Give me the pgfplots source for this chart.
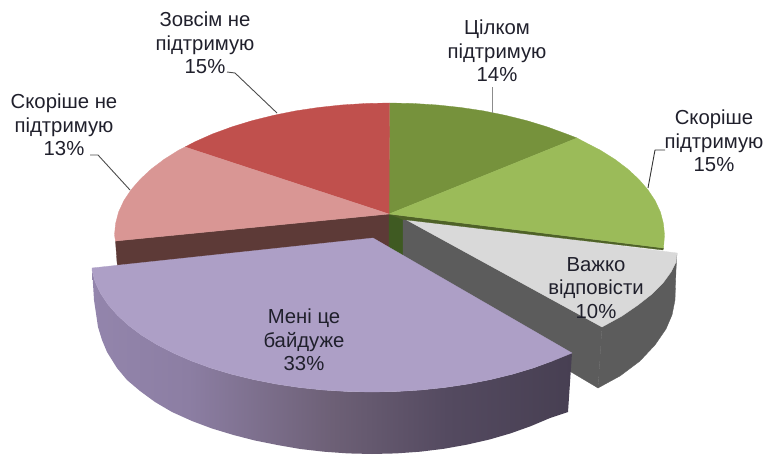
\documentclass[border=0pt]{standalone}
\usepackage{pgfplots}
\pgfplotsset{compat=1.18}
\usepackage{fontspec}
\setmainfont{Liberation Sans}
\definecolor{gdark}{HTML}{76923C}
\definecolor{glight}{HTML}{9BBB59}
\definecolor{rdark}{HTML}{C0504D}
\definecolor{rlight}{HTML}{D99694}
\definecolor{purp}{HTML}{AD9FC6}
\definecolor{grey1}{HTML}{D9D9D9}
\definecolor{grey2}{HTML}{5C5C5C}
\definecolor{brown1}{HTML}{5D3A37}
\definecolor{gside}{HTML}{3F5A22}
\definecolor{gline}{HTML}{4F6228}
\definecolor{wallA}{HTML}{9385AC}
\definecolor{wallA2}{HTML}{8C7EA3}
\definecolor{wallB}{HTML}{6D6076}
\definecolor{wallB2}{HTML}{544A60}
\definecolor{wallC}{HTML}{473F52}
\definecolor{txt}{HTML}{20202C}
\pgfdeclarehorizontalshading{wallsh}{100bp}{color(0bp)=(wallA); color(25bp)=(wallA); color(35bp)=(wallA2); color(50bp)=(wallB); color(62bp)=(wallB2); color(75bp)=(wallC); color(100bp)=(wallC)}
\tikzset{lab/.style={font=\fontsize{20.3}{23.5}\selectfont, align=center, text=txt, inner sep=0pt}}
\begin{document}
\begin{tikzpicture}
\useasboundingbox (0,0) rectangle (766pt,455pt);
\begin{axis}[
  scale only axis, width=766pt, height=455pt,
  xmin=0, xmax=766, ymin=0, ymax=455, y dir=reverse,
  hide axis, clip=false,
  every axis plot/.append style={line join=round, line width=0.3pt},
]
% sides behind
\addplot[fill=brown1,draw=brown1] coordinates {(115.5,241)(389,214)(390,262)(118,270)(117,262)} --cycle;
\addplot[fill=gside,draw=gside] coordinates {(389,214)(403,218)(403,262)(389,262)} --cycle;
% grey wedge (exploded)
\addplot[fill=grey2,draw=grey2] coordinates {(403,218)(602,327)(598,388)(403,272)} --cycle;
\addplot[fill=grey2,draw=grey2] coordinates {(677,253)(676,270)(675,300)(672,315)(666,329)(655,345)(640,361)(620,376)(598,388)(602,327)} --cycle;
\addplot[fill=grey1,draw=grey1] coordinates {(403,218)(677,253)(676,262)(671,272)(663,283)(652,294)(638,305)(622,316)(602,327)} --cycle;
\addplot[fill=gline,draw=gline] coordinates {(389,214)(663.5,248)(663,250)(403,219.5)} --cycle;
% purple wedge wall
\addplot[draw=none,shade,shading=wallsh] coordinates {
(92,268)(92.1,270.6)(95.2,282.1)(100.6,293.4)(108,304.5)(117.4,315.2)(128.7,325.5)(141.8,335.3)(156.7,344.5)(173.3,353)(191.4,360.9)(210.8,368)(231.5,374.2)(253.2,379.5)(275.9,384)(299.3,387.5)(323.2,390)(347.5,391.5)(372,392)(396.5,391.5)(420.8,390)(444.7,387.5)(468.1,384)(490.8,379.5)(512.5,374.2)(533.2,368)(552.6,360.9)(572,353)
(568,412)(550.1,418)(530.9,426.1)(510.5,433.4)(489.1,439.6)(466.7,444.7)(443.7,448.8)(420.1,451.7)(396.1,453.4)(372,454)(347.9,453.4)(323.9,451.7)(300.3,449)(277.3,445)(254.9,440.5)(233.5,435)(212,428.5)(192,421)(172,412)(155,402)(140,391)(127,380)(117,368)(107,352)(102,340)(98,327)(96,313.4)(94,300)} --cycle;
% purple top
\addplot[fill=purp,draw=purp] coordinates {
(373,238)(92,268)(92.1,270.6)(95.2,282.1)(100.6,293.4)(108,304.5)(117.4,315.2)(128.7,325.5)(141.8,335.3)(156.7,344.5)(173.3,353)(191.4,360.9)(210.8,368)(231.5,374.2)(253.2,379.5)(275.9,384)(299.3,387.5)(323.2,390)(347.5,391.5)(372,392)(396.5,391.5)(420.8,390)(444.7,387.5)(468.1,384)(490.8,379.5)(512.5,374.2)(533.2,368)(552.6,360.9)(572,353)} --cycle;
% main tops
\addplot[fill=gdark,draw=gdark] coordinates {(389,214)(389.5,103)(413.5,103.5)(437.4,105)(460.7,107.5)(483.5,110.9)(505.7,115.4)(527,120.7)(547.2,126.9)(566.3,133.9)(577,138)} --cycle;
\addplot[fill=glight,draw=glight] coordinates {(389,214)(577,138)(583.9,141.7)(600.2,150.1)(614.7,159.2)(627.7,169)(638.7,179.2)(648,189.9)(655.2,200.8)(660.4,212)(663.4,223.5)(664.5,235)(663.5,248)} --cycle;
\addplot[fill=rdark,draw=rdark] coordinates {(389,214)(389.5,103)(365.5,103.5)(341.6,105)(318.3,107.5)(295.5,110.9)(273.3,115.4)(252,120.7)(231.8,126.9)(212.7,133.9)(195.1,141.7)(185,147)} --cycle;
\addplot[fill=rlight,draw=rlight] coordinates {(389,214)(185,147)(178.8,150.1)(164.3,159.2)(151.3,169)(140.3,179.2)(131,189.9)(123.8,200.8)(118.6,212)(115.6,223.5)(114.5,235)(115.5,241)} --cycle;
% leaders
\addplot[draw=black!70,line width=0.9pt] coordinates {(227,72)(235,73)(277,113)};
\addplot[draw=black!70,line width=0.9pt] coordinates {(90,155)(98,155)(130,190)};
\addplot[draw=black!45,line width=0.9pt] coordinates {(492,87)(492,113)};
\addplot[draw=black!80,line width=0.9pt] coordinates {(665,150)(655,150)(648,188)};
% labels
\node[lab] at (axis cs:205,43) {Зовсім не\\підтримую\\15\%};
\node[lab] at (axis cs:64,125) {Скоріше не\\підтримую\\13\%};
\node[lab] at (axis cs:497,51) {Цілком\\підтримую\\14\%};
\node[lab] at (axis cs:714,141) {Скоріше\\підтримую\\15\%};
\node[lab] at (axis cs:596,288) {Важко\\відповісти\\10\%};
\node[lab] at (axis cs:304,340) {Мені це\\байдуже\\33\%};
\end{axis}
\end{tikzpicture}
\end{document}
